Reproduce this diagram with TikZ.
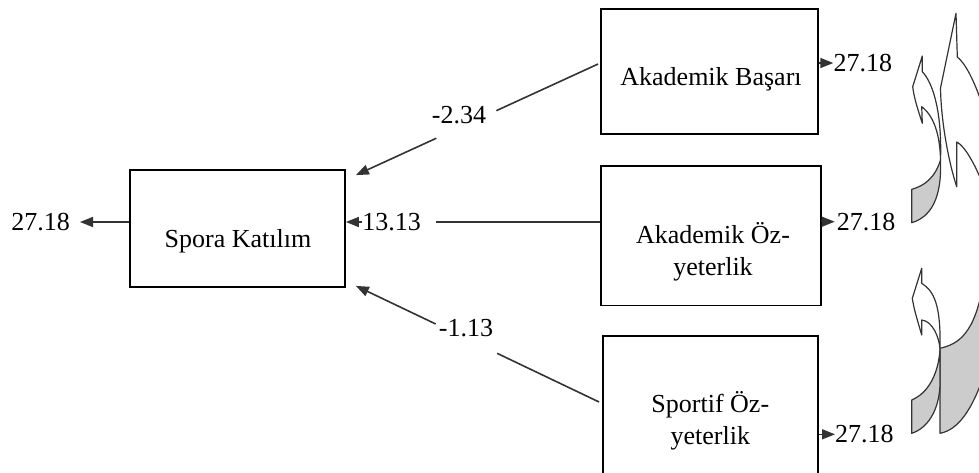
\documentclass[tikz,border=0pt]{standalone}
\usepackage{fontspec}
\setmainfont{Liberation Serif}
\usetikzlibrary{arrows.meta,calc}
\begin{document}
\begin{tikzpicture}[x=1pt,y=-1pt,
  box/.style={draw=black, line width=1.8pt, inner sep=0pt},
  lbl/.style={inner sep=0pt, font=\fontsize{26}{31.5}\selectfont},
  conn/.style={draw=black!80, line width=1.6pt},
  arr/.style={conn, -{Triangle[length=13pt,width=10pt]}},
  curvy/.style={draw=black!80, line width=1.2pt, line join=round, fill=white},
  curvyback/.style={curvy, fill=black!20}]
\clip (0,0) rectangle (979,472);
\fill[white] (0,0) rectangle (979,472);

% boxes
\node[box, minimum width=215pt, minimum height=117pt] (spora) at (237.5,228.5) {};
\node[box, minimum width=217pt, minimum height=125pt] (ab) at (709.5,71.5) {};
\node[box, minimum width=220pt, minimum height=139.5pt] (ao) at (711,235.75) {};
\node[box, minimum width=215pt, minimum height=140pt] (so) at (710.5,406) {};

% box texts (two-line nodes are placed by the baseline of their last line)
\node[lbl, anchor=base] (sporaT) at (238,247) {Spora Katılım};
\node[lbl, anchor=base] (abT) at (711,85) {Akademik Başarı};
\node[lbl, anchor=base, align=center] (aoT) at (713,275) {Akademik Öz-\\yeterlik};
\node[lbl, anchor=base, align=center] (soT) at (710.3,444) {Sportif Öz-\\yeterlik};

% coefficient labels
\node[lbl, anchor=east] (e0) at (70,222) {27.18};
\node[lbl] (l13) at (391.5,222) {13.13};
\node[lbl, anchor=west] (r1) at (833.3,63) {27.18};
\node[lbl, anchor=west] (r2) at (836.7,221.7) {27.18};
\node[lbl, anchor=west] (r3) at (835,434.3) {27.18};
\node[lbl] (l234) at (459,115.5) {-2.34};
\node[lbl] (l113) at (466,328) {-1.13};

% straight paths
\draw[arr] (spora.west |- e0) -- ([xshift=10pt]e0.east);
\draw[conn] (ao.west |- l13) -- ([xshift=15pt]l13.east);
\draw[arr] (l13.west) -- (spora.east |- l13);
\draw[arr] (ab.east |- r1) -- (r1.west);
\draw[arr] (ao.east |- r2) -- ([xshift=-2pt]r2.west);
\draw[arr] (so.east |- r3) -- (r3.west);

% diagonal paths with a gap for the label
\coordinate (s1) at ([shift={(-2,-7.5)}]ab.west);
\coordinate (t1) at ([shift={(10,6)}]spora.north east);
\draw[conn] (s1) -- ($(s1)!0.42!(t1)$);
\draw[arr] ($(s1)!0.668!(t1)$) -- (t1);
\coordinate (s3) at ([shift={(-3,-4)}]so.west);
\coordinate (t3) at ([shift={(10,-2)}]spora.south east);
\draw[conn] (s3) -- ($(s3)!0.419!(t3)$);
\draw[arr] ($(s3)!0.672!(t3)$) -- (t3);

% curved arrows, lower pair
\path[curvyback] (940,348.3) .. controls (958,344) and (975,335) .. (984,280)
  -- (984,375) .. controls (972,410) and (958,430) .. (940,433.3) -- cycle;
\path[curvyback] (940,350) .. controls (938,375) and (928,393) .. (911.7,400)
  -- (911.7,433.3) .. controls (928,428) and (939,410) .. (940,385) -- cycle;
\path[curvy] (921.7,268.3) -- (921.7,283.3)
  .. controls (934,291) and (941,305) .. (940,349)
  .. controls (939,336) and (932,321) .. (921.7,320)
  -- (921.7,335) .. controls (918,322) and (914,310) .. (912.3,298.3) -- cycle;

% curved arrows, upper pair
\path[curvy] (956,13.3) -- (957.3,57)
  .. controls (965,63) and (974,80) .. (982,104)
  -- (982,182) .. controls (975,165) and (965,146) .. (956.7,142)
  -- (956.7,186.7) .. controls (948,160) and (941,120) .. (940.5,88) -- cycle;
\path[curvyback] (940.5,160) .. controls (935,178) and (924,186) .. (911.7,189.3)
  -- (911.7,222.7) .. controls (931,217) and (942,198) .. (940.5,160) -- cycle;
\path[curvy] (922.3,56) -- (922.3,71.7)
  .. controls (934,84) and (942,115) .. (940.5,160)
  .. controls (940,135) and (934,116) .. (921.7,106.7)
  -- (922.3,123.3) .. controls (918,110) and (914,98) .. (912.7,86.7) -- cycle;
\end{tikzpicture}
\end{document}
